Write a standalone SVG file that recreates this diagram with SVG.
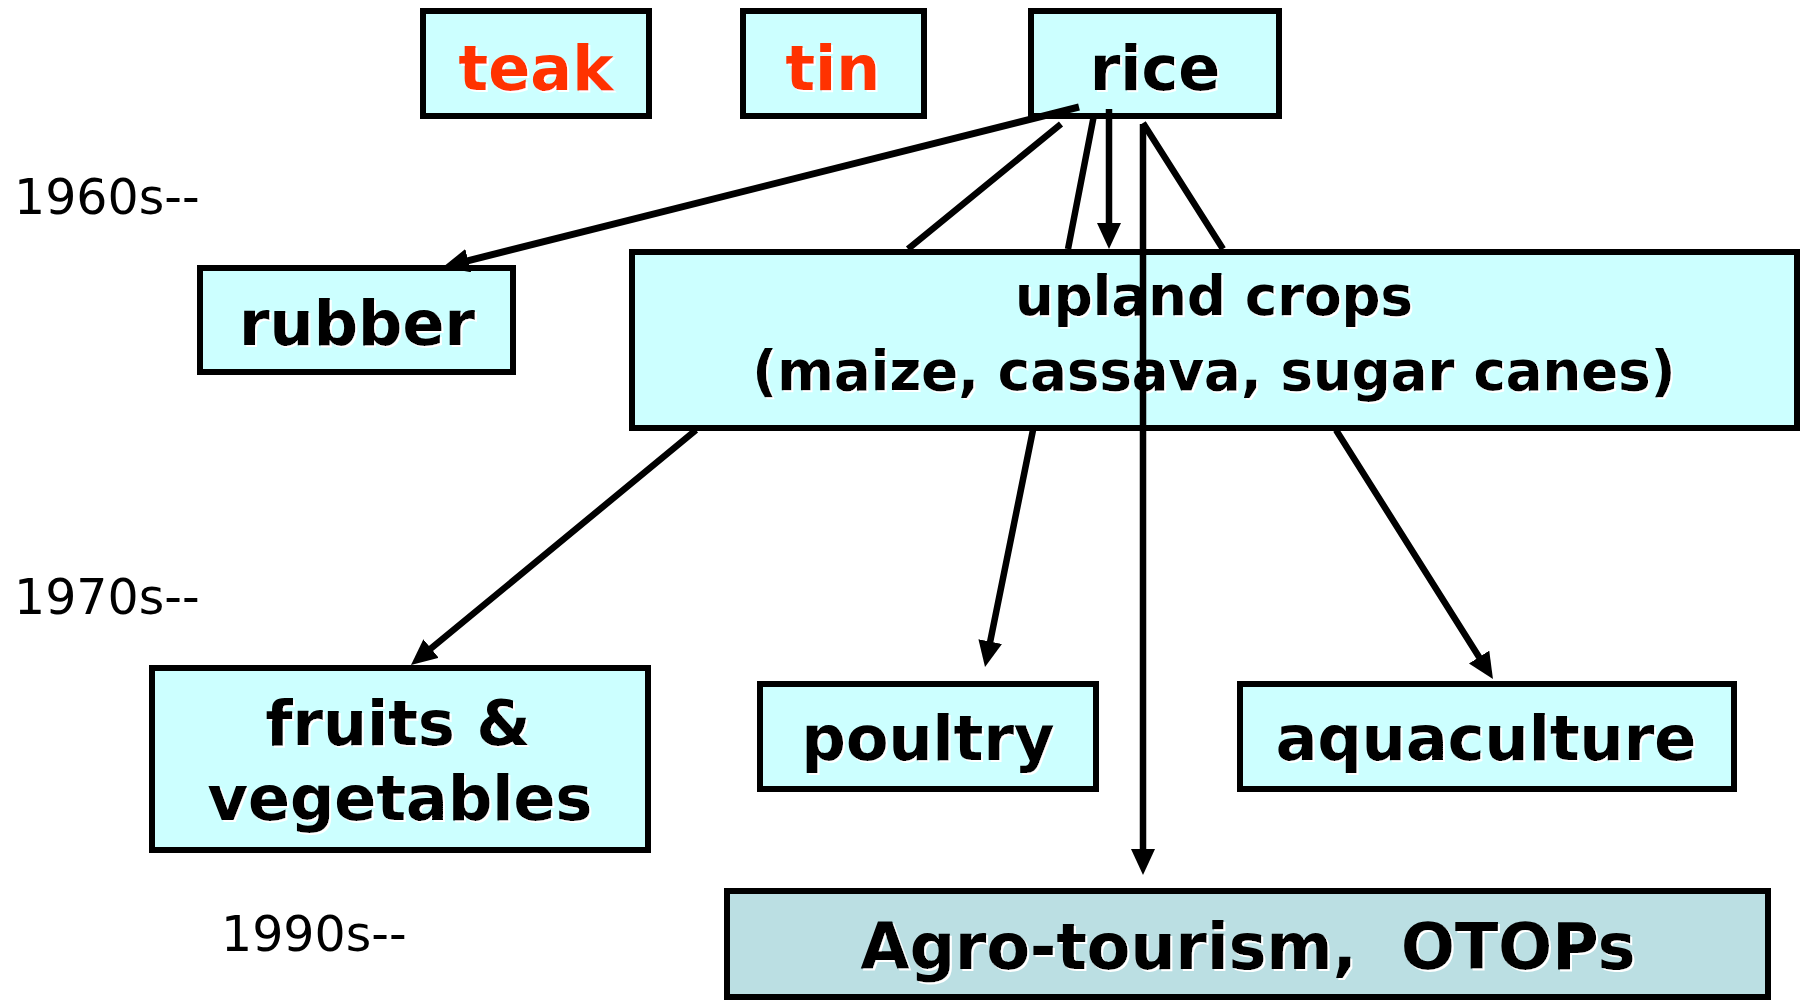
<svg xmlns="http://www.w3.org/2000/svg" width="1805" height="1000" viewBox="0 0 1805 1000">
<style>
.box{fill:#CCFFFF;stroke:#000;stroke-width:6}
.box2{fill:#BBDFE3;stroke:#000;stroke-width:6}
.lbl{font-family:"DejaVu Sans",Verdana,sans-serif;font-weight:bold;font-size:62px;text-anchor:middle;fill:#000;filter:url(#sh)}
.red{fill:#FF3300}
.yr{font-family:"DejaVu Sans",Verdana,sans-serif;font-size:49px;fill:#000}
.ln{fill:none;stroke:#000;stroke-width:6.5}
</style>
<defs>
<filter id="sh" x="-5%" y="-20%" width="110%" height="140%">
<feDropShadow dx="2" dy="2" stdDeviation="0" flood-color="#fff" flood-opacity="1"/>
</filter>
<marker id="ah" markerUnits="userSpaceOnUse" markerWidth="28" markerHeight="26" refX="12" refY="12" orient="auto">
<path d="M0,0 L26,12 L0,24 Z" fill="#000"/>
</marker>
</defs>
<rect width="1805" height="1000" fill="#fff"/>
<text class="yr" x="14" y="214">1960s--</text>
<text class="yr" x="14" y="614">1970s--</text>
<text class="yr" x="221" y="951">1990s--</text>
<g id="teak"><rect class="box" x="423" y="11" width="226" height="105"/><text class="lbl red" x="536" y="90">teak</text></g>
<g id="tin"><rect class="box" x="743" y="11" width="181" height="105"/><text class="lbl red" x="833" y="90">tin</text></g>
<g id="rice"><rect class="box" x="1031" y="11" width="248" height="105"/><text class="lbl" x="1155" y="90">rice</text></g>
<g id="rubber"><rect class="box" x="200" y="268" width="313" height="104"/><text class="lbl" x="357" y="345">rubber</text></g>
<g id="upland"><rect class="box" x="632" y="252" width="1165" height="176"/><text class="lbl" style="font-size:54.5px" x="1214" y="315">upland crops</text><text class="lbl" style="font-size:54.5px" x="1214" y="390">(maize, cassava, sugar canes)</text></g>
<g id="fruits"><rect class="box" x="152" y="668" width="496" height="182"/><text class="lbl" x="398" y="745">fruits &amp;</text><text class="lbl" x="400" y="820">vegetables</text></g>
<g id="poultry"><rect class="box" x="760" y="684" width="336" height="105"/><text class="lbl" x="928" y="760">poultry</text></g>
<g id="aquaculture"><rect class="box" x="1240" y="684" width="494" height="105"/><text class="lbl" x="1486" y="760">aquaculture</text></g>
<g id="agro"><rect class="box2" x="727" y="891" width="1041" height="106"/><text class="lbl" x="1248" y="969" xml:space="preserve" style="white-space:pre;font-size:63.5px">Agro-tourism,  OTOPs</text></g>
<g id="connectors">
<path class="ln" style="stroke-width:7" d="M1079,107 L456.6,263.6" marker-end="url(#ah)"/>
<path class="ln" d="M1061,124 L908,249 M696,430 L421.8,656.1" marker-end="url(#ah)"/>
<path class="ln" d="M1094,115 L1068,249 M1033,430 L987.8,653.3" marker-end="url(#ah)"/>
<path class="ln" d="M1143,123 L1223,249 M1336,430 L1485.5,667.2" marker-end="url(#ah)"/>
<path class="ln" d="M1109,109 L1109,235" marker-end="url(#ah)"/>
<path class="ln" d="M1143,124 L1143,861" marker-end="url(#ah)"/>
</g>
</svg>
